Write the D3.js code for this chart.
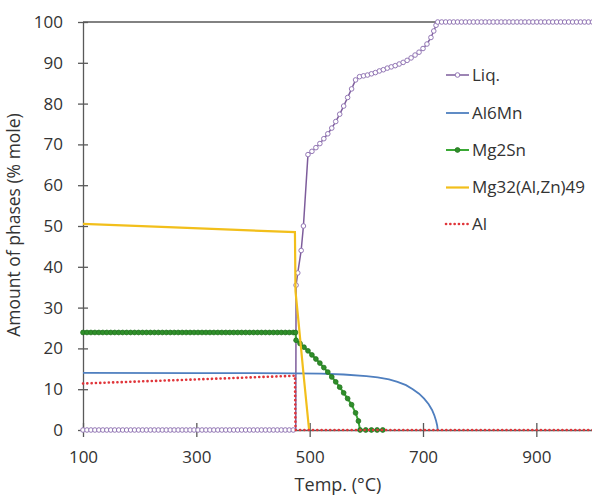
<!DOCTYPE html>
<html>
<head>
<meta charset="utf-8">
<title>phases.html</title>
<style>
body { margin: 0; background: #fff; }
text { font-family: "Open Sans", sans-serif; fill: #333; }
.axis path, .axis line { stroke: #595959; stroke-width: 1.3; }
</style>
</head>
<body>
<svg width="592" height="496"></svg>
<script src="https://d3js.org/d3.v7.min.js"></script>
<script>
// temperature (°C), amount (% mole)
var liq = [[100,0],[107,0],[114,0],[121,0],[128,0],[135,0],[142,0],[149,0],[156,0],[163,0],
  [170,0],[177,0],[184,0],[191,0],[198,0],[205,0],[212,0],[219,0],[226,0],[233,0],
  [240,0],[247,0],[254,0],[261,0],[268,0],[275,0],[282,0],[289,0],[296,0],[303,0],
  [310,0],[317,0],[324,0],[331,0],[338,0],[345,0],[352,0],[359,0],[366,0],[373,0],
  [380,0],[387,0],[394,0],[401,0],[408,0],[415,0],[422,0],[429,0],[436,0],[443,0],
  [450,0],[457,0],[464,0],[471,0],[475.5,0],[476,35.5],[479,38.5],[485,44],[489,50],
  [497,67.5],[504,68.3],[511,69.2],[518,70.2],[525,71.4],[532,72.6],[539,74],[546,75.6],
  [553,77.4],[560,79.4],[567,81.5],[574,83.6],[581,85.8],[588,86.6],[595,86.8],[602,87],
  [609,87.3],[616,87.6],[623,88],[630,88.3],[637,88.7],[644,89],[651,89.3],[658,89.7],
  [665,90.1],[672,90.6],[679,91.2],[686,91.9],[693,92.6],[700,93.5],[707,94.6],[714,96.2],
  [719,97.8],[723,99.2],[726,100],[733,100],[740,100],[747,100],[754,100],[761,100],
  [768,100],[775,100],[782,100],[789,100],[796,100],[803,100],[810,100],[817,100],
  [824,100],[831,100],[838,100],[845,100],[852,100],[859,100],[866,100],[873,100],
  [880,100],[887,100],[894,100],[901,100],[908,100],[915,100],[922,100],[929,100],
  [936,100],[943,100],[950,100],[957,100],[964,100],[971,100],[978,100],[985,100],
  [992,100],[999,100]];

var al6mn = [[100,14],[300,13.95],[475,13.9],[520,13.8],[560,13.6],[600,13.2],[620,12.9],
  [640,12.4],[655,11.8],[670,11],[682,10],[693,8.9],[702,7.7],[710,6.3],[716,4.9],
  [720,3.6],[723,2.3],[725,1.1],[726,0]];

var mg2sn = [[100,23.9],[107,23.9],[114,23.9],[121,23.9],[128,23.9],[135,23.9],[142,23.9],
  [149,23.9],[156,23.9],[163,23.9],[170,23.9],[177,23.9],[184,23.9],[191,23.9],[198,23.9],
  [205,23.9],[212,23.9],[219,23.9],[226,23.9],[233,23.9],[240,23.9],[247,23.9],[254,23.9],
  [261,23.9],[268,23.9],[275,23.9],[282,23.9],[289,23.9],[296,23.9],[303,23.9],[310,23.9],
  [317,23.9],[324,23.9],[331,23.9],[338,23.9],[345,23.9],[352,23.9],[359,23.9],[366,23.9],
  [373,23.9],[380,23.9],[387,23.9],[394,23.9],[401,23.9],[408,23.9],[415,23.9],[422,23.9],
  [429,23.9],[436,23.9],[443,23.9],[450,23.9],[457,23.9],[464,23.9],[471,23.9],[475,23.9],
  [476,22],[483,21.2],[490,20.3],[497,19.4],[504,18.4],[511,17.4],[518,16.4],[525,15.3],
  [532,14.2],[539,13],[546,11.8],[553,10.5],[560,9.1],[567,7.7],[574,6.2],[581,4.2],
  [586,2.2],[589,0],[599,0],[609,0],[619,0],[629,0]];

var mg32 = [[100,50.5],[250,49.7],[474,48.5],[475,34],[480,27],[490,12.5],[499,0]];

var al = [[100,11.4],[300,12.4],[474,13.3],[475,0],[1000,0]];

var xTicks = [100, 300, 500, 700, 900];
var yTicks = [0, 10, 20, 30, 40, 50, 60, 70, 80, 90, 100];
var legendNames = ["Liq.", "Al6Mn", "Mg2Sn", "Mg32(Al,Zn)49", "Al"];

var svg = d3.select("svg");

var x = d3.scaleLinear().domain([100, 1000]).range([83, 593]);
var y = d3.scaleLinear().domain([0, 100]).range([430, 22]);

// top border at 100
svg.append("line")
    .attr("x1", x(100)).attr("x2", x(1000))
    .attr("y1", y(100)).attr("y2", y(100))
    .attr("stroke", "#595959").attr("stroke-width", 1.3);

var yAxis = svg.append("g")
    .attr("class", "axis")
    .attr("transform", "translate(" + x(100) + ",0)")
    .call(d3.axisLeft(y).tickValues(yTicks).tickSize(5).tickSizeOuter(0).tickPadding(15));
yAxis.selectAll(".tick line").attr("x1", 5);

var xAxis = svg.append("g")
    .attr("class", "axis")
    .attr("transform", "translate(0," + y(0) + ")")
    .call(d3.axisBottom(x).tickValues(xTicks).tickSize(7).tickSizeOuter(0).tickPadding(14));
xAxis.selectAll(".tick line").attr("y1", -7);

svg.selectAll(".axis").attr("font-family", null).attr("font-size", null);
svg.selectAll(".axis .tick text").style("font-size", "17px").attr("fill", null);

svg.append("text")
    .attr("x", 338).attr("y", 491)
    .attr("text-anchor", "middle")
    .style("font-size", "18px")
    .text("Temp. (°C)");

svg.append("text")
    .attr("transform", "translate(14,225) rotate(-90)")
    .attr("text-anchor", "middle")
    .attr("dy", "0.35em")
    .style("font-size", "17.5px")
    .text("Amount of phases (% mole)");

var line = d3.line()
    .x(function(d) { return x(d[0]); })
    .y(function(d) { return y(d[1]); });

var styles = [
  { data: liq, color: "#7d5c9b", width: 1.5 },
  { data: al6mn, color: "#4f7fbf", width: 1.8 },
  { data: mg2sn, color: "#3aa935", width: 2 },
  { data: mg32, color: "#f2bf1b", width: 2.2 },
  { data: al, color: "#e0353a", width: 2.6, dash: "0.1,4.2" }
];

styles.forEach(function(s, i) {
  svg.append("path")
      .datum(s.data)
      .attr("fill", "none")
      .attr("stroke", s.color)
      .attr("stroke-width", s.width)
      .attr("stroke-dasharray", s.dash || null)
      .attr("stroke-linecap", s.dash ? "round" : "butt")
      .attr("d", line);

  if (i == 0) {
    svg.append("g").selectAll("circle")
      .data(liq.filter(function(d) { return d[0] != 475.5; }))
      .enter().append("circle")
        .attr("cx", function(d) { return x(d[0]); })
        .attr("cy", function(d) { return y(d[1]); })
        .attr("r", 2.3)
        .attr("fill", "#fff")
        .attr("stroke", "#9377b5")
        .attr("stroke-width", 1);
  }
  if (i == 2) {
    svg.append("g").selectAll("circle")
      .data(mg2sn)
      .enter().append("circle")
        .attr("cx", function(d) { return x(d[0]); })
        .attr("cy", function(d) { return y(d[1]); })
        .attr("r", 2.4)
        .attr("fill", "#2f8f2a")
        .attr("stroke", "#23731f")
        .attr("stroke-width", 0.8);
  }
});

// legend
var legend = svg.append("g");
var legendY = [75, 113, 150, 187.5, 224];
legendNames.forEach(function(name, i) {
  var s = styles[i];
  var ly = legendY[i];
  legend.append("line")
      .attr("x1", 446).attr("x2", 469)
      .attr("y1", ly).attr("y2", ly)
      .attr("stroke", s.color)
      .attr("stroke-width", s.width)
      .attr("stroke-dasharray", s.dash || null)
      .attr("stroke-linecap", s.dash ? "round" : "butt");
  if (i == 0) {
    legend.append("circle").attr("cx", 457.5).attr("cy", ly).attr("r", 2.3)
        .attr("fill", "#fff").attr("stroke", "#9377b5");
  }
  if (i == 2) {
    legend.append("circle").attr("cx", 457.5).attr("cy", ly).attr("r", 2.4)
        .attr("fill", "#2f8f2a").attr("stroke", "#23731f").attr("stroke-width", 0.8);
  }
  legend.append("text")
      .attr("x", 472).attr("y", ly)
      .attr("dy", "0.35em")
      .style("font-size", "17px")
      .text(name);
});
</script>
</body>
</html>
